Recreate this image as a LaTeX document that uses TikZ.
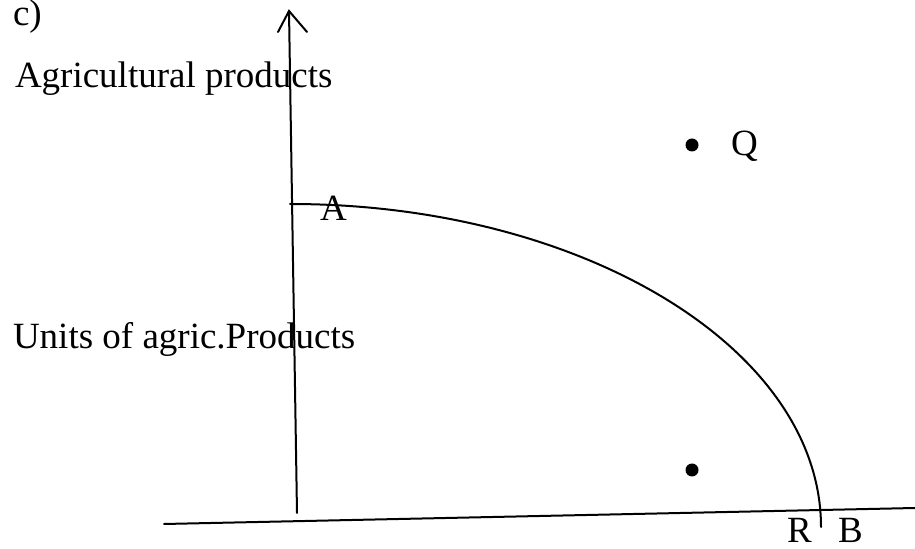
\documentclass[tikz,border=0pt]{standalone}
\usepackage{fontspec}
\setmainfont{Liberation Serif}
\begin{document}
\begin{tikzpicture}[x=0.5pt,y=-0.5pt,
  lbl/.style={inner sep=0pt,outer sep=0pt,anchor=base west,font=\fontsize{18.5}{22}\selectfont},
  axisline/.style={line width=1pt,line cap=round,line join=miter},
  dotmark/.style={circle,fill=black,draw=none,inner sep=0pt,minimum size=6.5pt}]
\useasboundingbox (0,0) rectangle (915,549);
% axes
\coordinate (ytop) at (289,11);
\coordinate (ybot) at (297,513);
\coordinate (hl) at (278,32);
\coordinate (hr) at (307,32);
\coordinate (xl) at (164,524);
\coordinate (xr) at (915,508);
\draw[axisline] (ybot) -- (ytop);
\draw[axisline] (hl) -- (ytop) -- (hr);
\draw[axisline] (xl) -- (xr);
% frontier curve
\coordinate (cA) at (290,204);
\coordinate (cB) at (821,527);
\draw[axisline] (cA) .. controls (583,204) and (821,349) .. (cB);
% points
\node[dotmark] (q) at (692,145) {};
\node[dotmark] (p) at (692,470) {};
% labels
\node[lbl] (c) at (13,26) {c)};
\node[lbl] (ag) at (15,88) {Agricultural products};
\node[lbl] (un) at (13,349) {Units of agric.Products};
\node[lbl] (Q) at (731,156) {Q};
\node[lbl] (A) at (320,221) {A};
\node[lbl] (R) at (787,543) {R};
\node[lbl] (B) at (838,543) {B};
\end{tikzpicture}
\end{document}
